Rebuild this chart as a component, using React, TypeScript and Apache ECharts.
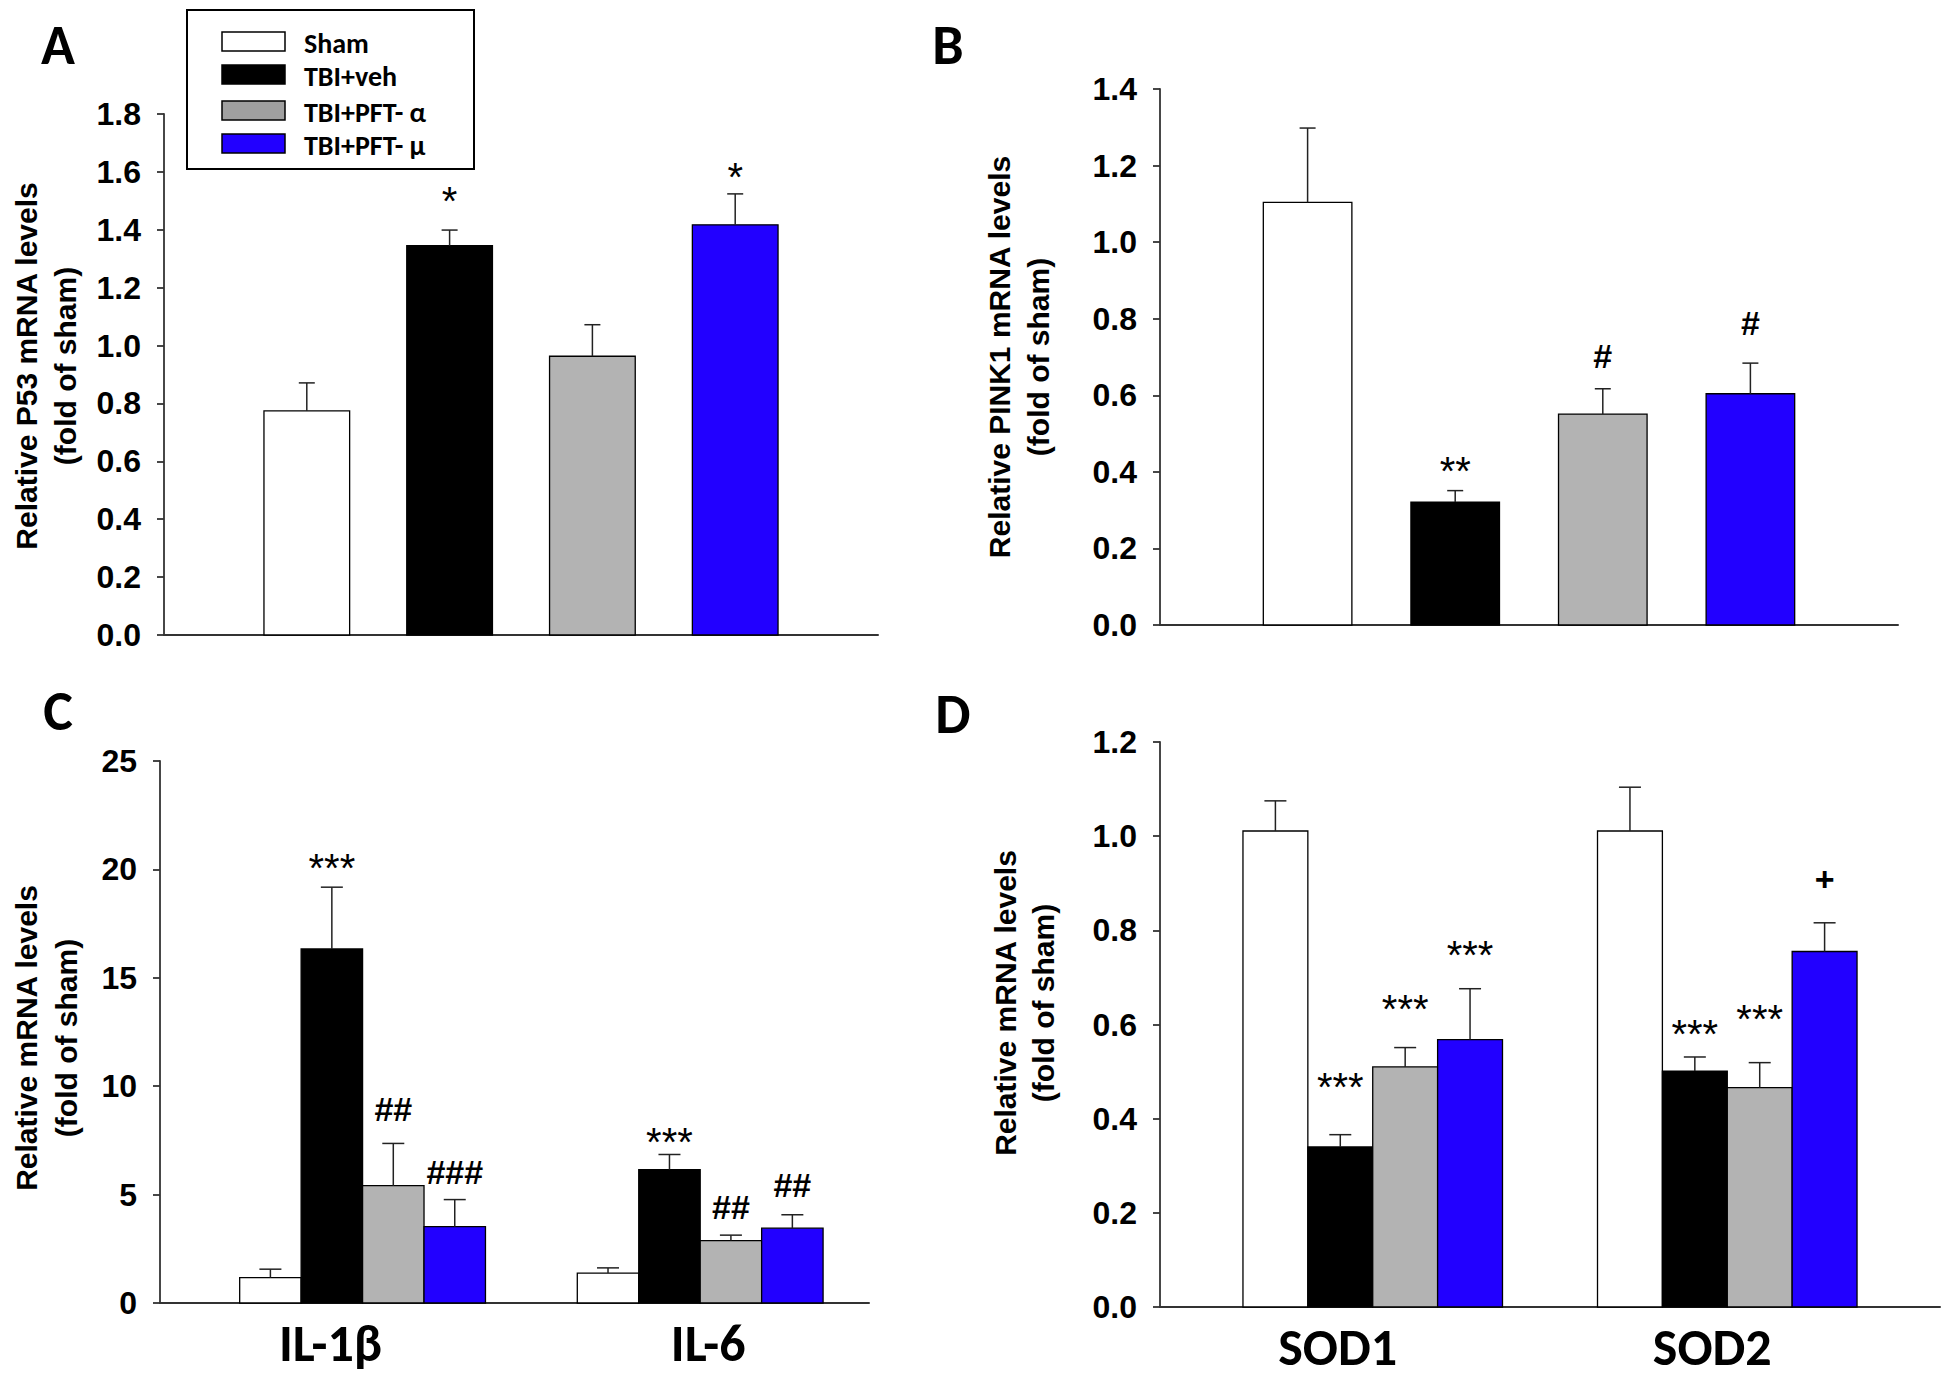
import React, { useEffect, useRef } from "react";
import * as echarts from "echarts";

// ---------- data ----------
const treatments = ["Sham", "TBI+veh", "TBI+PFT- α", "TBI+PFT- μ"];
const barColors = ["#ffffff", "#000000", "#b3b3b3", "#2200ff"];
const legendColors = ["#ffffff", "#000000", "#a0a0a0", "#2200ff"];

// Panel A: P53
const p53Mean = [0.774, 1.345, 0.963, 1.417];
const p53Sem = [0.097, 0.054, 0.109, 0.107];
const p53Marks = ["", "*", "", "*"];
const p53MarkY = [0, 1.53, 0, 1.615];

// Panel B: PINK1
const pink1Mean = [1.104, 0.321, 0.551, 0.604];
const pink1Sem = [0.194, 0.03, 0.066, 0.08];
const pink1Marks = ["", "**", "#", "#"];
const pink1MarkY = [0, 0.425, 0.702, 0.79];

// Panel C: cytokines (rows = treatment, cols = gene)
const cytokines = ["IL-1β", "IL-6"];
const cytoMean = [[1.17, 1.38], [16.33, 6.15], [5.41, 2.88], [3.52, 3.45]];
const cytoSem = [[0.39, 0.24], [2.85, 0.7], [1.95, 0.25], [1.25, 0.62]];
const cytoMarks = [["", ""], ["***", "***"], ["##", "##"], ["###", "##"]];
const cytoMarkY = [[0, 0], [20.5, 7.85], [8.95, 4.45], [6.05, 5.45]];

// Panel D: SOD (rows = treatment, cols = gene)
const sods = ["SOD1", "SOD2"];
const sodMean = [[1.011, 1.011], [0.34, 0.501], [0.51, 0.466], [0.568, 0.755]];
const sodSem = [[0.064, 0.093], [0.026, 0.03], [0.041, 0.053], [0.108, 0.061]];
const sodMarks = [["", ""], ["***", "***"], ["***", "***"], ["***", "+"]];
const sodMarkY = [[0, 0], [0.486, 0.6], [0.652, 0.631], [0.766, 0.91]];

// axis tick setup
const yMaxA = 1.8, yMaxB = 1.4, yMaxC = 25, yMaxD = 1.2;
const yStepA = 0.2, yStepB = 0.2, yStepC = 5, yStepD = 0.2;

const titlesA = ["Relative P53 mRNA levels", "(fold of sham)"];
const titlesB = ["Relative PINK1 mRNA levels", "(fold of sham)"];
const titlesC = ["Relative mRNA levels", "(fold of sham)"];
const titlesD = ["Relative mRNA levels", "(fold of sham)"];
const panelLetters = ["A", "B", "C", "D"];

// ---------- styling ----------
const NUM_FONT = "'Liberation Sans', Arial, Helvetica, sans-serif";
const CAL_FONT = "Carlito, Lato, 'Open Sans', sans-serif";

const grids = [
  { left: 164, top: 114, width: 714, height: 521 },
  { left: 1160, top: 89, width: 738, height: 536 },
  { left: 160, top: 761, width: 709, height: 542 },
  { left: 1160, top: 742, width: 780, height: 565 },
];
const xRanges = [
  [0, 5],
  [0, 5],
  [0.4, 2.5],
  [0.4, 2.6],
];
// pixel nudges of the group labels (as set in the original figure)
const catLabelShift = [
  [-32, 8],
  [-35, -15],
];

function makeBarRender(fill: string, halfW: number, capHalf: number) {
  return (params: any, api: any) => {
    const x = api.value(0);
    const y = api.value(1);
    const e = api.value(2);
    const p0 = api.coord([x - halfW, y]);
    const p1 = api.coord([x + halfW, 0]);
    const pt = api.coord([x, y + e]);
    const cx = (p0[0] + p1[0]) / 2;
    return {
      type: "group",
      children: [
        {
          type: "rect",
          shape: { x: p0[0], y: p0[1], width: p1[0] - p0[0], height: p1[1] - p0[1] },
          style: { fill, stroke: "#000", lineWidth: 1.3 },
        },
        {
          type: "line",
          shape: { x1: cx, y1: p0[1], x2: cx, y2: pt[1] },
          style: { stroke: "#222", lineWidth: 1.5 },
        },
        {
          type: "line",
          shape: { x1: cx - capHalf, y1: pt[1], x2: cx + capHalf, y2: pt[1] },
          style: { stroke: "#222", lineWidth: 1.5 },
        },
      ],
    };
  };
}

function markFont(t: string) {
  if (t.indexOf("*") >= 0) return { size: 40, dy: 9, weight: "normal" };
  if (t.indexOf("+") >= 0) return { size: 34, dy: 0, weight: "bold" };
  return { size: 34, dy: 0, weight: "bold" };
}

function makeTextRender(texts: string[], kind: "mark" | "cat", shifts?: number[]) {
  return (params: any, api: any) => {
    const p = api.coord([api.value(0), api.value(1)]);
    const t = texts[params.dataIndex];
    if (kind === "cat") {
      return {
        type: "text",
        x: p[0] + (shifts ? shifts[params.dataIndex] : 0),
        y: p[1] + 40,
        style: {
          text: t,
          fill: "#000",
          fontSize: 52,
          fontWeight: "bold",
          fontFamily: CAL_FONT,
          align: "center",
          verticalAlign: "middle",
        },
      };
    }
    const f = markFont(t);
    return {
      type: "text",
      x: p[0],
      y: p[1] + f.dy,
      style: {
        text: t,
        fill: "#000",
        fontSize: f.size,
        fontWeight: f.weight,
        fontFamily: NUM_FONT,
        align: "center",
        verticalAlign: "middle",
      },
    };
  };
}

function buildOption() {
  const series: any[] = [];

  // Panels A and B (single group of four bars at positions 1..4)
  const simplePanels = [
    { idx: 0, mean: p53Mean, sem: p53Sem, marks: p53Marks, markY: p53MarkY },
    { idx: 1, mean: pink1Mean, sem: pink1Sem, marks: pink1Marks, markY: pink1MarkY },
  ];
  simplePanels.forEach((p) => {
    treatments.forEach((name, t) => {
      series.push({
        type: "custom",
        name,
        xAxisIndex: p.idx,
        yAxisIndex: p.idx,
        renderItem: makeBarRender(barColors[t], 0.3, 8),
        data: [[t + 1, p.mean[t], p.sem[t]]],
        z: 2,
      });
    });
    const txt: string[] = [];
    const dat: number[][] = [];
    p.marks.forEach((m, t) => {
      if (m) {
        txt.push(m);
        dat.push([t + 1, p.markY[t]]);
      }
    });
    series.push({
      type: "custom",
      xAxisIndex: p.idx,
      yAxisIndex: p.idx,
      renderItem: makeTextRender(txt, "mark"),
      data: dat,
      z: 3,
    });
  });

  // Panels C and D (two groups of four adjacent bars)
  const groupedPanels = [
    { idx: 2, cats: cytokines, mean: cytoMean, sem: cytoSem, marks: cytoMarks, markY: cytoMarkY, w: 0.182, shift: catLabelShift[0] },
    { idx: 3, cats: sods, mean: sodMean, sem: sodSem, marks: sodMarks, markY: sodMarkY, w: 0.183, shift: catLabelShift[1] },
  ];
  groupedPanels.forEach((p) => {
    const txt: string[] = [];
    const dat: number[][] = [];
    treatments.forEach((name, t) => {
      const xs = p.cats.map((_, g) => g + 1 + (t - 1.5) * p.w);
      series.push({
        type: "custom",
        name,
        xAxisIndex: p.idx,
        yAxisIndex: p.idx,
        renderItem: makeBarRender(barColors[t], p.w / 2, 11),
        data: p.cats.map((_, g) => [xs[g], p.mean[t][g], p.sem[t][g]]),
        z: 2,
      });
      p.cats.forEach((_, g) => {
        const m = p.marks[t][g];
        if (m) {
          txt.push(m);
          dat.push([xs[g], p.markY[t][g]]);
        }
      });
    });
    series.push({
      type: "custom",
      xAxisIndex: p.idx,
      yAxisIndex: p.idx,
      renderItem: makeTextRender(txt, "mark"),
      data: dat,
      z: 3,
    });
    series.push({
      type: "custom",
      xAxisIndex: p.idx,
      yAxisIndex: p.idx,
      renderItem: makeTextRender(p.cats, "cat", p.shift),
      data: p.cats.map((_, g) => [g + 1, 0]),
      z: 3,
    });
  });

  const yMax = [yMaxA, yMaxB, yMaxC, yMaxD];
  const ySteps = [yStepA, yStepB, yStepC, yStepD];

  const xAxis = grids.map((_, i) => ({
    type: "value",
    gridIndex: i,
    min: xRanges[i][0],
    max: xRanges[i][1],
    axisLine: { show: true, onZero: true, lineStyle: { color: "#333", width: 2 } },
    axisTick: { show: false },
    axisLabel: { show: false },
    splitLine: { show: false },
  }));

  const yAxis = grids.map((_, i) => ({
    type: "value",
    gridIndex: i,
    min: 0,
    max: yMax[i],
    interval: ySteps[i],
    axisLine: { show: true, lineStyle: { color: "#333", width: 1.8 } },
    axisTick: { show: true, inside: false, length: 7, lineStyle: { color: "#333", width: 1.8 } },
    splitLine: { show: false },
    axisLabel: {
      margin: 23,
      color: "#000",
      fontSize: 32,
      fontWeight: "bold",
      fontFamily: NUM_FONT,
      formatter: (v: number) => (ySteps[i] >= 1 ? String(Math.round(v)) : v.toFixed(1)),
    },
  }));

  // graphic: titles, letters, legend
  const graphic: any[] = [];
  const titleSets = [titlesA, titlesB, titlesC, titlesD];
  const titlePos = [
    { x1: 26, x2: 65, y: 366 },
    { x1: 999, x2: 1038, y: 357 },
    { x1: 26, x2: 66, y: 1038 },
    { x1: 1005, x2: 1043, y: 1003 },
  ];
  titleSets.forEach((lines, i) => {
    lines.forEach((line, j) => {
      graphic.push({
        type: "text",
        x: j === 0 ? titlePos[i].x1 : titlePos[i].x2,
        y: titlePos[i].y,
        rotation: Math.PI / 2,
        style: {
          text: line,
          fill: "#000",
          fontSize: 30,
          fontWeight: "bold",
          fontFamily: NUM_FONT,
          textAlign: "center",
          textVerticalAlign: "middle",
          align: "center",
          verticalAlign: "middle",
        },
      });
    });
  });

  const letterPos = [
    [58, 45],
    [948, 45],
    [58, 711],
    [953, 714],
  ];
  panelLetters.forEach((l, i) => {
    graphic.push({
      type: "text",
      x: letterPos[i][0],
      y: letterPos[i][1],
      style: {
        text: l,
        fill: "#000",
        fontSize: 56,
        fontWeight: "bold",
        fontFamily: CAL_FONT,
        textAlign: "center",
        textVerticalAlign: "middle",
        align: "center",
        verticalAlign: "middle",
      },
    });
  });

  // legend box
  graphic.push({
    type: "rect",
    shape: { x: 187, y: 10, width: 287, height: 159 },
    style: { fill: "#fff", stroke: "#000", lineWidth: 2 },
    z: 10,
  });
  const rowY = [32, 65, 101, 134];
  treatments.forEach((name, t) => {
    graphic.push({
      type: "rect",
      shape: { x: 222, y: rowY[t], width: 63, height: 19 },
      style: { fill: legendColors[t], stroke: "#000", lineWidth: 1.5 },
      z: 11,
    });
    graphic.push({
      type: "text",
      x: 304,
      y: rowY[t] + 11,
      style: {
        text: name,
        fill: "#000",
        fontSize: 28,
        lineHeight: 28,
        fontWeight: "bold",
        fontFamily: CAL_FONT,
        textAlign: "left",
        textVerticalAlign: "middle",
        align: "left",
        verticalAlign: "middle",
      },
      z: 11,
    });
  });

  return {
    animation: false,
    backgroundColor: "#ffffff",
    grid: grids.map((g) => ({ ...g, containLabel: false, outerBoundsMode: "none" })),
    xAxis,
    yAxis,
    series,
    graphic,
  };
}

export default function App() {
  const ref = useRef<HTMLDivElement>(null);
  useEffect(() => {
    const chart = echarts.init(ref.current as HTMLDivElement, null, { renderer: "svg" });
    chart.setOption(buildOption() as any);
    return () => chart.dispose();
  }, []);
  return (
    <div
      ref={ref}
      style={{ position: "fixed", left: 0, top: 0, width: 1950, height: 1379, background: "#fff" }}
    />
  );
}
